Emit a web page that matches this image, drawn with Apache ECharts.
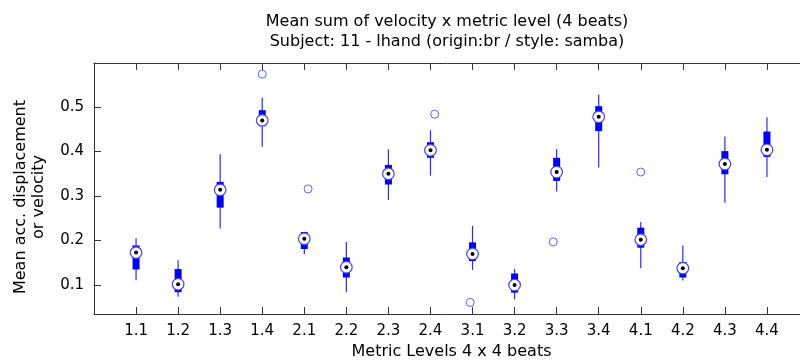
<!DOCTYPE html>
<html>
<head>
    <meta charset="utf-8">
    <title>Mean sum of velocity x metric level</title>
    <script src="https://cdn.jsdelivr.net/npm/echarts@6/dist/echarts.min.js"></script>
</head>
<body style="margin:0">
    <div id="main" style="width: 800px;height:360px;"></div>

    <script type="text/javascript">
        // metric levels (categories on the x axis)
        var categories = ['1.1', '1.2', '1.3', '1.4', '2.1', '2.2', '2.3', '2.4',
                          '3.1', '3.2', '3.3', '3.4', '4.1', '4.2', '4.3', '4.4'];

        // box plot statistics
        var whiskerLow  = [0.111, 0.074, 0.227, 0.411, 0.169, 0.084, 0.291, 0.346, 0.134, 0.068, 0.310, 0.364, 0.138, 0.110, 0.285, 0.343];
        var boxLow      = [0.135, 0.084, 0.274, 0.465, 0.181, 0.117, 0.326, 0.386, 0.154, 0.083, 0.334, 0.446, 0.184, 0.117, 0.349, 0.388];
        var medians     = [0.173, 0.102, 0.314, 0.470, 0.204, 0.140, 0.350, 0.403, 0.170, 0.100, 0.354, 0.478, 0.202, 0.138, 0.372, 0.404];
        var boxHigh     = [0.189, 0.136, 0.332, 0.493, 0.219, 0.162, 0.370, 0.421, 0.196, 0.126, 0.386, 0.502, 0.229, 0.152, 0.401, 0.445];
        var whiskerHigh = [0.205, 0.156, 0.394, 0.521, 0.220, 0.197, 0.405, 0.448, 0.233, 0.136, 0.406, 0.528, 0.242, 0.189, 0.434, 0.477];

        // outliers: category index (1-based), horizontal jitter, value
        var outlierCat    = [4, 5, 8, 9, 11, 13];
        var outlierJitter = [0, 0.09, 0.10, -0.055, -0.08, 0];
        var outlierValue  = [0.574, 0.316, 0.484, 0.061, 0.197, 0.354];

        var font = 'DejaVu Sans';

        var boxData = categories.map(function (c, i) {
            return [i + 1, whiskerLow[i], boxLow[i], medians[i], boxHigh[i], whiskerHigh[i]];
        });
        var outlierData = outlierCat.map(function (c, i) {
            return [c + outlierJitter[i], outlierValue[i]];
        });

        function renderBox(params, api) {
            var x = api.value(0);
            var pLo = api.coord([x, api.value(1)]);
            var pQ1 = api.coord([x, api.value(2)]);
            var pMed = api.coord([x, api.value(3)]);
            var pQ3 = api.coord([x, api.value(4)]);
            var pHi = api.coord([x, api.value(5)]);
            return {
                type: 'group',
                children: [
                    { type: 'line', shape: { x1: pLo[0], y1: pLo[1], x2: pHi[0], y2: pHi[1] },
                      style: { stroke: '#2a2aff', lineWidth: 1.2 } },
                    { type: 'rect', shape: { x: pQ1[0] - 3.5, y: pQ3[1], width: 7, height: pQ1[1] - pQ3[1] },
                      style: { fill: '#0000ff' } },
                    { type: 'circle', shape: { cx: pMed[0], cy: pMed[1], r: 5.8 },
                      style: { fill: '#ffffff', stroke: '#4040ff', lineWidth: 1.2 } },
                    { type: 'circle', shape: { cx: pMed[0], cy: pMed[1], r: 2 },
                      style: { fill: '#000000' } }
                ]
            };
        }

        var myChart = echarts.init(document.getElementById('main'));

        var axisColor = '#333333';

        var option = {
            animation: false,
            backgroundColor: '#ffffff',
            title: {
                text: 'Mean sum of velocity x metric level (4 beats)\nSubject: 11 - lhand (origin:br / style: samba)',
                left: 447,
                top: 12,
                padding: 0,
                textAlign: 'center',
                textStyle: { fontFamily: font, fontSize: 16, fontWeight: 'normal', color: '#000', lineHeight: 20 }
            },
            // y axis title, placed like the original (slightly below the plot middle)
            graphic: [{
                type: 'text',
                x: 30,
                y: 197,
                rotation: Math.PI / 2,
                style: {
                    text: 'Mean acc. displacement\nor velocity',
                    fontFamily: font, fontSize: 16, lineHeight: 18, fill: '#000',
                    align: 'center', verticalAlign: 'middle'
                }
            }],
            grid: { left: 94, top: 63, width: 715, height: 251, containLabel: false, outerBoundsMode: 'none' },
            xAxis: [{
                type: 'value',
                min: 0, max: 17, interval: 1,
                name: 'Metric Levels 4 x 4 beats',
                nameLocation: 'middle',
                nameGap: 30,
                nameTextStyle: { fontFamily: font, fontSize: 16, color: '#000' },
                axisLine: { lineStyle: { color: axisColor, width: 1 } },
                axisTick: { inside: true, length: 7, lineStyle: { color: axisColor } },
                axisLabel: {
                    margin: 10, fontFamily: font, fontSize: 15, color: '#000',
                    showMinLabel: false, showMaxLabel: false,
                    formatter: function (v) { return categories[v - 1] || ''; }
                },
                splitLine: { show: false }
            }, {
                type: 'value',
                position: 'top',
                min: 0, max: 17, interval: 1,
                axisLine: { lineStyle: { color: axisColor, width: 1 } },
                axisTick: { inside: true, length: 7, lineStyle: { color: axisColor } },
                axisLabel: { show: false },
                splitLine: { show: false }
            }],
            yAxis: {
                type: 'value',
                min: 0.035, max: 0.599, splitNumber: 5,
                axisLine: { show: true, lineStyle: { color: axisColor, width: 1 } },
                axisTick: { inside: true, length: 7, lineStyle: { color: axisColor } },
                axisLabel: {
                    margin: 10, fontFamily: font, fontSize: 15, color: '#000',
                    showMinLabel: false, showMaxLabel: false,
                    formatter: function (v) { return v.toFixed(1); }
                },
                splitLine: { show: false }
            },
            series: [{
                type: 'custom',
                renderItem: renderBox,
                data: boxData,
                encode: { x: 0, y: [1, 2, 3, 4, 5] },
                z: 2
            }, {
                type: 'scatter',
                data: outlierData,
                symbol: 'circle',
                symbolSize: 8,
                itemStyle: { color: '#ffffff', borderColor: '#3a3aff', borderWidth: 1 },
                z: 3
            }]
        };

        myChart.setOption(option);
    </script>
</body>
</html>
